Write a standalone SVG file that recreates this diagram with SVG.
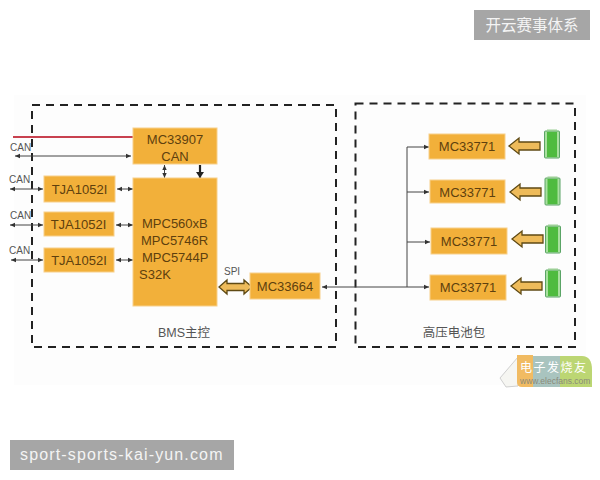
<svg xmlns="http://www.w3.org/2000/svg" width="600" height="480" viewBox="0 0 600 480">
<style>
text{font-family:"Liberation Sans","Noto Sans CJK SC",sans-serif}
.b{fill:#f2b03a;stroke:#f8d08a;stroke-width:1}
.t{fill:#5e400e;font-size:13px;text-anchor:middle}
.m{fill:#5e400e;font-size:13px}
.l{fill:#555;font-size:10px}
.g{fill:#555;font-size:12.5px;text-anchor:middle}
.d{fill:none;stroke:#222;stroke-width:2;stroke-dasharray:8 6}
.c{fill:none;stroke:#444;stroke-width:1}
.w{fill:#a6a6a6}
.ws{fill:#f4f4f4}
.ar{fill:#eebb5a;stroke:#5f4a14;stroke-width:1.300}
.bat{fill:#a9e09f;stroke:#5aa466;stroke-width:1}
.core{fill:#4fbb3f}
</style>
<defs>
<marker id="h" markerWidth="6" markerHeight="6" refX="5" refY="3" orient="auto-start-reverse" markerUnits="userSpaceOnUse"><path d="M0 .8L5 3L0 5.2z" fill="#333"/></marker>
<marker id="hb" markerWidth="8" markerHeight="8" refX="6" refY="4" orient="auto" markerUnits="userSpaceOnUse"><path d="M0 0L6 4L0 8z" fill="#222"/></marker>
<path id="blk" class="ar" d="M0 0l10-8v4h21v8H10v4z"/>
<g id="cell"><rect class="bat" x="0" y="0" width="15" height="27" rx="1"/><rect class="core" x="2.500" y="1" width="10" height="25"/><rect x="2.500" y="-1.500" width="10" height="1.500" fill="#9ccf96"/></g>
</defs>
<rect width="600" height="480" fill="#fff"/>
<rect x="14" y="95" width="572" height="290" fill="#fdfdfd"/>

<g id="frames">
<rect id="bms-frame" class="d" x="32" y="105" width="304" height="242"/>
<rect id="pack-frame" class="d" x="355.500" y="103.500" width="219.500" height="243.500"/>
</g>

<g id="connectors">
<path d="M13 137H133" fill="none" stroke="#c8414f" stroke-width="1.800"/>
<path class="c" d="M15 156H131" marker-start="url(#h)" marker-end="url(#h)"/>
<path class="c" d="M10 189H43" marker-start="url(#h)" marker-end="url(#h)"/>
<path class="c" d="M10 225H43" marker-start="url(#h)" marker-end="url(#h)"/>
<path class="c" d="M11 260H43" marker-start="url(#h)" marker-end="url(#h)"/>
<path class="c" d="M117 189H133" marker-start="url(#h)" marker-end="url(#h)"/>
<path class="c" d="M116 225H133" marker-start="url(#h)" marker-end="url(#h)"/>
<path class="c" d="M116 260H133" marker-start="url(#h)" marker-end="url(#h)"/>
<path class="c" d="M164.500 165V178" stroke-width="1.200" marker-start="url(#h)" marker-end="url(#h)"/>
<path d="M200 165V178" fill="none" stroke="#222" stroke-width="2.200" marker-end="url(#hb)"/>
<path class="c" d="M322 287H429"  marker-start="url(#h)" marker-end="url(#h)"/>
<path class="c" d="M407 287V147H429" marker-end="url(#h)"/>
<path class="c" d="M407 192H429" marker-end="url(#h)"/>
<path class="c" d="M407 242H430" marker-end="url(#h)"/>
<path id="spi" class="ar" d="M219 287l8-7v3.500h17V280l8 7l-8 7v-3.500h-17V294z"/>
</g>

<g id="mc33907"><rect class="b" x="133" y="128" width="84" height="36"/><text class="t" x="175" y="144">MC33907</text><text class="t" x="175" y="161">CAN</text></g>
<g id="mcu"><rect class="b" x="133" y="178" width="84" height="128"/>
<text class="m" x="142" y="228">MPC560xB</text><text class="m" x="141" y="245">MPC5746R</text><text class="m" x="142" y="262">MPC5744P</text><text class="m" x="139" y="279">S32K</text></g>
<g id="tja1"><rect class="b" x="44" y="176" width="71" height="26"/><text class="t" x="79.500" y="193.500">TJA1052I</text></g>
<g id="tja2"><rect class="b" x="44" y="212" width="70" height="24"/><text class="t" x="78.500" y="229">TJA1052I</text></g>
<g id="tja3"><rect class="b" x="44" y="248" width="70" height="24"/><text class="t" x="79" y="265">TJA1052I</text></g>
<g id="mc33664"><rect class="b" x="250" y="273" width="70" height="26"/><text class="t" x="285" y="290.500">MC33664</text></g>

<g id="afe1"><rect class="b" x="429" y="134" width="76" height="25"/><text class="t" x="467" y="151">MC33771</text></g>
<g id="afe2"><rect class="b" x="430" y="180" width="75" height="23"/><text class="t" x="467.500" y="196.500">MC33771</text></g>
<g id="afe3"><rect class="b" x="431" y="228" width="76" height="26"/><text class="t" x="469" y="245.500">MC33771</text></g>
<g id="afe4"><rect class="b" x="430" y="275" width="76" height="25"/><text class="t" x="468" y="292">MC33771</text></g>

<g id="cell-arrows">
<use href="#blk" x="509" y="146"/><use href="#blk" x="510" y="192"/><use href="#blk" x="512" y="239"/><use href="#blk" x="511" y="286"/>
</g>
<g id="batteries">
<use href="#cell" x="544.500" y="131"/><use href="#cell" x="545" y="178"/><use href="#cell" x="545.500" y="226"/><use href="#cell" x="545.500" y="270"/>
</g>

<g id="labels">
<text class="l" x="10" y="151">CAN</text><text class="l" x="9" y="183">CAN</text><text class="l" x="10" y="219">CAN</text><text class="l" x="9" y="254">CAN</text>
<text class="l" x="224" y="275">SPI</text>
<text class="g" x="184" y="337">BMS主控</text>
<text class="g" x="454" y="337">高压电池包</text>
</g>

<g id="logo">
<path d="M500 378L512 364L518 357V386L506 387Z" fill="#f6f6f2" stroke="#c4c4c4" stroke-width=".8"/>
<path d="M517 355H533V387H522Q517 387 517 382Z" fill="#f1bb62"/>
<rect x="533" y="356" width="27" height="31" fill="#a9c4bf"/>
<path d="M560 356H582Q592 356 592 370V387H560Z" fill="#bcd673"/>
<text x="520" y="372" font-size="12" letter-spacing="1.500" fill="#fff">电子发烧友</text>
<text x="520" y="384" font-size="8.500" fill="#8a8a7a">www.elecfans.com</text>
</g>

<g id="wm-top"><rect class="w" x="474" y="10" width="116" height="30"/><text class="ws" x="532" y="31" font-size="15.500" text-anchor="middle">开云赛事体系</text></g>
<g id="wm-bottom"><rect class="w" x="10" y="440" width="224" height="30"/><text class="ws" x="20" y="460" font-size="16" letter-spacing="1.150">sport-sports-kai-yun.com</text></g>
</svg>
